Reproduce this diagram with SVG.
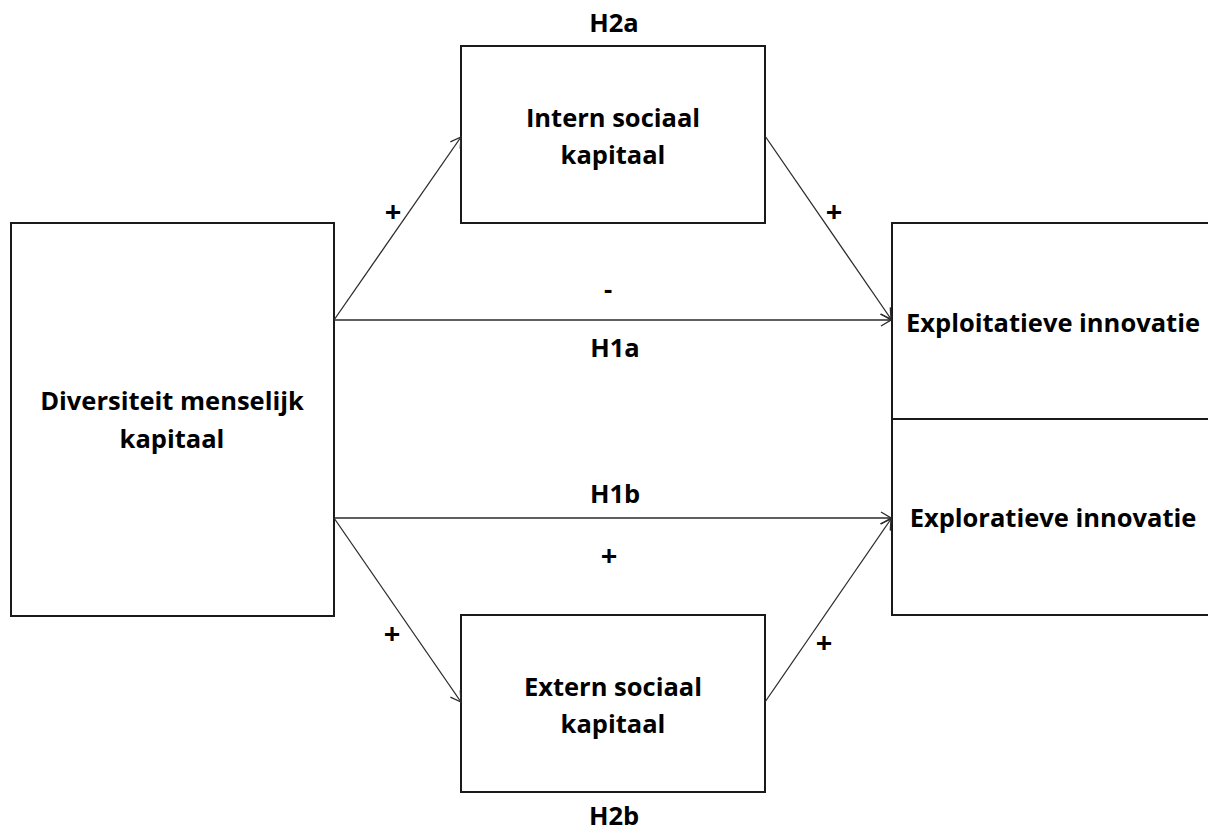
<svg xmlns="http://www.w3.org/2000/svg" width="1208" height="832" viewBox="0 0 1208 832">
<defs>
<style>
.box{fill:#fff;stroke:#1a1a1a;stroke-width:2}
.conn{fill:none;stroke:#2a2a2a;stroke-width:1.3}
text{font-family:"Open Sans","Noto Sans","Liberation Sans",sans-serif;font-weight:700;font-size:25.5px;fill:#000;text-anchor:middle}
text.sign{font-size:29px}
</style>
<marker id="arr" viewBox="0 0 12 14" refX="11" refY="7" markerWidth="12" markerHeight="14" markerUnits="userSpaceOnUse" orient="auto">
<path d="M1,1 L11,7 L1,13" fill="none" stroke="#2a2a2a" stroke-width="1.3"/>
</marker>
</defs>
<rect width="1208" height="832" fill="#fff"/>
<g id="node-diversiteit">
<rect class="box" x="11" y="223" width="323" height="393"/>
<text x="172" y="410">Diversiteit menselijk</text>
<text x="172" y="448">kapitaal</text>
</g>
<g id="node-intern">
<rect class="box" x="461" y="46" width="304" height="177"/>
<text x="613" y="127">Intern sociaal</text>
<text x="613" y="164">kapitaal</text>
</g>
<g id="node-extern">
<rect class="box" x="461" y="615" width="304" height="177"/>
<text x="613" y="696">Extern sociaal</text>
<text x="613" y="733">kapitaal</text>
</g>
<g id="node-innovatie">
<rect class="box" x="892" y="223" width="324" height="392"/>
<line class="box" x1="892" y1="419" x2="1216" y2="419"/>
<text x="1053" y="332">Exploitatieve innovatie</text>
<text x="1053" y="527">Exploratieve innovatie</text>
</g>
<g id="connectors">
<line class="conn" x1="334" y1="320" x2="461" y2="137" marker-end="url(#arr)"/>
<line class="conn" x1="765" y1="136" x2="891" y2="319" marker-end="url(#arr)"/>
<line class="conn" x1="334" y1="320" x2="891" y2="320" marker-end="url(#arr)"/>
<line class="conn" x1="334" y1="518" x2="891" y2="518" marker-end="url(#arr)"/>
<line class="conn" x1="334" y1="518" x2="461" y2="702" marker-end="url(#arr)"/>
<line class="conn" x1="765" y1="702" x2="891" y2="519" marker-end="url(#arr)"/>
</g>
<g id="labels">
<text x="614" y="32">H2a</text>
<text x="614" y="825">H2b</text>
<text x="615" y="357">H1a</text>
<text x="615" y="503">H1b</text>
<text x="608" y="298">-</text>
<text class="sign" x="609" y="566">+</text>
<text class="sign" x="393" y="222">+</text>
<text class="sign" x="834" y="222">+</text>
<text class="sign" x="392" y="644">+</text>
<text class="sign" x="824" y="653">+</text>
</g>
</svg>
